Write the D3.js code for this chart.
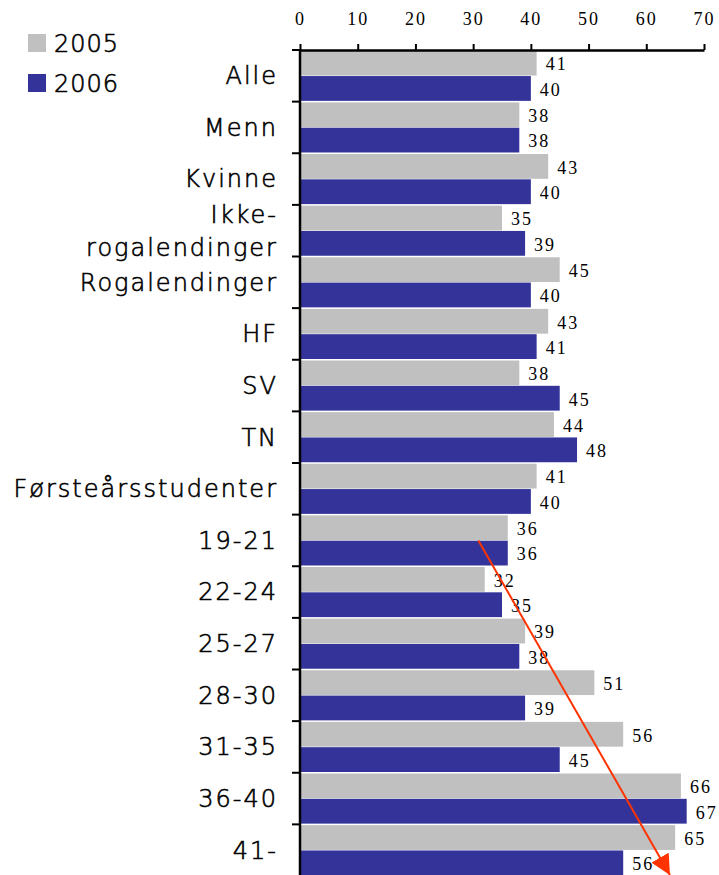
<!DOCTYPE html>
<html>
<head>
<meta charset="utf-8">
<script src="https://cdn.jsdelivr.net/npm/d3@7"></script>
<style>
  body { margin: 0; background: #fff; }
</style>
</head>
<body>
<div id="container"></div>
<script>
/* DATA */
const categories = ["Alle", "Menn", "Kvinne", "Ikke-rogalendinger", "Rogalendinger", "HF", "SV", "TN",
  "Førsteårsstudenter", "19-21", "22-24", "25-27", "28-30", "31-35", "36-40", "41-"];
const years = ["2005", "2006"];
const values2005 = [41, 38, 43, 35, 45, 43, 38, 44, 41, 36, 32, 39, 51, 56, 66, 65];
const values2006 = [40, 38, 40, 39, 40, 41, 45, 48, 40, 36, 35, 38, 39, 45, 67, 56];
const xTicks = [0, 10, 20, 30, 40, 50, 60, 70];

/* CONSTANTS */
const width = 719, height = 875,
  margin = { top: 50, bottom: 0, left: 300, right: 15 };
const colors = { "2005": "#c0c0c0", "2006": "#333399" };
const labelFont = "DejaVu Sans, Verdana, sans-serif";
const numFont = "Liberation Serif, Times New Roman, serif";

const svg = d3.select("#container")
  .append("svg")
  .attr("width", width)
  .attr("height", height)

const x = d3.scaleLinear()
  .domain([0, 70])
  .range([margin.left, 704])

const y = d3.scaleBand()
  .domain(categories)
  .range([margin.top, 876])

const ySub = d3.scaleBand()
  .domain(years)
  .range([0, y.bandwidth()])
  .paddingInner(0.02)
  .paddingOuter(0.03)

const rows = categories.map((c, i) => ({ cat: c, vals: [values2005[i], values2006[i]] }))

// BARS
const groups = svg.selectAll("g.row")
  .data(rows)
  .join("g")
  .attr("class", "row")
  .attr("transform", d => `translate(0, ${y(d.cat)})`)

groups.selectAll("rect")
  .data(d => d.vals.map((v, j) => ({ year: years[j], v })))
  .join("rect")
  .attr("x", x(0))
  .attr("y", d => ySub(d.year))
  .attr("width", d => x(d.v) - x(0))
  .attr("height", ySub.bandwidth())
  .attr("fill", d => colors[d.year])

groups.selectAll("text.val")
  .data(d => d.vals.map((v, j) => ({ year: years[j], v })))
  .join("text")
  .attr("class", "val")
  .attr("x", d => x(d.v) + 9)
  .attr("y", d => ySub(d.year) + ySub.bandwidth() / 2 + 1)
  .attr("dy", "0.35em")
  .attr("font-family", numFont)
  .attr("font-size", 18)
  .attr("letter-spacing", 2)
  .text(d => d.v)

// TOP AXIS
const xAxis = svg.append("g")
  .attr("transform", `translate(0, ${margin.top})`)
  .call(d3.axisTop(x).tickValues(xTicks).tickSize(6).tickSizeOuter(0))
xAxis.select(".domain").attr("stroke-width", 2.5)
xAxis.selectAll(".tick line").attr("stroke-width", 2)
xAxis.selectAll(".tick text")
  .attr("font-family", numFont)
  .attr("font-size", 18)
  .attr("letter-spacing", 2)
  .attr("y", -25)
  .attr("fill", "#000")

// LEFT AXIS
const yAxis = svg.append("g")
  .attr("transform", `translate(${x(0)}, 0)`)
yAxis.append("line")
  .attr("y1", margin.top).attr("y2", height)
  .attr("stroke", "#000").attr("stroke-width", 2.5)
yAxis.selectAll("line.tick")
  .data(categories)
  .join("line")
  .attr("class", "tick")
  .attr("x1", -8).attr("x2", 0)
  .attr("y1", d => y(d)).attr("y2", d => y(d))
  .attr("stroke", "#000").attr("stroke-width", 2)

// CATEGORY LABELS
const labelLines = d => d === "Ikke-rogalendinger" ? ["Ikke-", "rogalendinger"] : [d]
const labels = svg.selectAll("text.cat")
  .data(categories)
  .join("text")
  .attr("class", "cat")
  .attr("text-anchor", "end")
  .attr("font-family", labelFont)
  .attr("font-weight", 300)
  .attr("font-size", 24)
  .attr("letter-spacing", 2)
  .attr("fill", "#000")
  .attr("stroke", "#000")
  .attr("stroke-width", 0.6)
labels.each(function (d) {
  const lines = labelLines(d)
  const mid = y(d) + y.bandwidth() / 2
  d3.select(this).selectAll("tspan")
    .data(lines)
    .join("tspan")
    .attr("x", 278)
    .attr("y", (l, i) => mid + (i - (lines.length - 1) / 2) * 33)
    .attr("dy", "0.35em")
    .text(l => l)
})

// LEGEND
const legend = svg.selectAll("g.legend")
  .data(years)
  .join("g")
  .attr("class", "legend")
  .attr("transform", (d, i) => `translate(28, ${34 + i * 40})`)
legend.append("rect")
  .attr("width", 18).attr("height", 18)
  .attr("fill", d => colors[d])
legend.append("text")
  .attr("x", 26).attr("y", 9).attr("dy", "0.36em")
  .attr("font-family", labelFont)
  .attr("font-weight", 300)
  .attr("font-size", 24)
  .attr("letter-spacing", 1)
  .attr("stroke", "#000")
  .attr("stroke-width", 0.6)
  .text(d => d)

// RED ARROW (annotation)
const defs = svg.append("defs")
defs.append("marker")
  .attr("id", "head")
  .attr("viewBox", "0 0 10 10")
  .attr("refX", 10).attr("refY", 5)
  .attr("markerWidth", 20).attr("markerHeight", 20)
  .attr("markerUnits", "userSpaceOnUse")
  .attr("orient", "auto")
  .append("path")
  .attr("d", "M0,0 L10,5 L0,10 Z")
  .attr("fill", "#ff3300")
svg.append("line")
  .attr("x1", x(30.9)).attr("y1", y("19-21") + y.bandwidth() / 2)
  .attr("x2", x(64.1)).attr("y2", y("41-") + y.bandwidth() - 1)
  .attr("stroke", "#ff3300")
  .attr("stroke-width", 2)
  .attr("marker-end", "url(#head)")
</script>
</body>
</html>
